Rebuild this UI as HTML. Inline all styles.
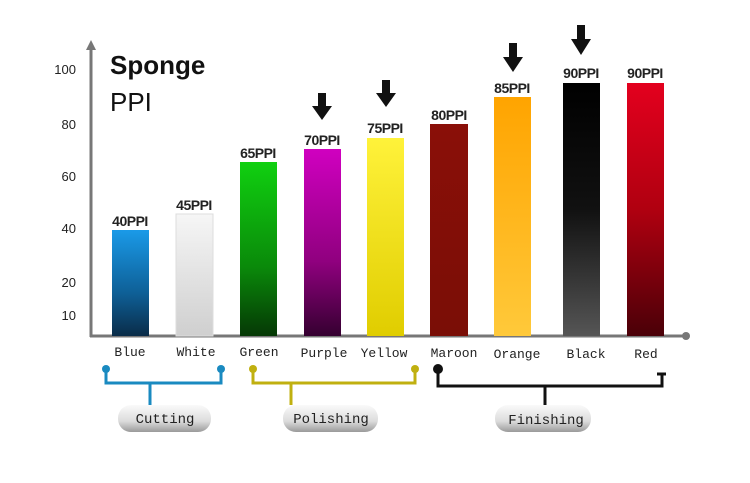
<!DOCTYPE html><html><head><style>body{margin:0;background:#fff}svg{display:block}</style></head><body>
<svg width="750" height="483" xmlns="http://www.w3.org/2000/svg" font-family="Liberation Sans, sans-serif">
<defs>
<linearGradient id="gb" x1="0" y1="0" x2="0" y2="1"><stop offset="0" stop-color="#1a9ae8"/><stop offset=".6" stop-color="#0e5f96"/><stop offset="1" stop-color="#0a2c48"/></linearGradient>
<linearGradient id="gw" x1="0" y1="0" x2="0" y2="1"><stop offset="0" stop-color="#f6f6f6"/><stop offset="1" stop-color="#cfcfcf"/></linearGradient>
<linearGradient id="gg" x1="0" y1="0" x2="0" y2="1"><stop offset="0" stop-color="#10d010"/><stop offset=".6" stop-color="#0a8a0a"/><stop offset="1" stop-color="#053805"/></linearGradient>
<linearGradient id="gp" x1="0" y1="0" x2="0" y2="1"><stop offset="0" stop-color="#d000c0"/><stop offset=".6" stop-color="#90007f"/><stop offset="1" stop-color="#350030"/></linearGradient>
<linearGradient id="gy" x1="0" y1="0" x2="0" y2="1"><stop offset="0" stop-color="#fff23a"/><stop offset="1" stop-color="#e0cd00"/></linearGradient>
<linearGradient id="gm" x1="0" y1="0" x2="0" y2="1"><stop offset="0" stop-color="#8a0f08"/><stop offset="1" stop-color="#7a0e06"/></linearGradient>
<linearGradient id="go" x1="0" y1="0" x2="0" y2="1"><stop offset="0" stop-color="#ffa400"/><stop offset="1" stop-color="#ffc93a"/></linearGradient>
<linearGradient id="gk" x1="0" y1="0" x2="0" y2="1"><stop offset="0" stop-color="#000"/><stop offset=".5" stop-color="#111"/><stop offset="1" stop-color="#555"/></linearGradient>
<linearGradient id="gr" x1="0" y1="0" x2="0" y2="1"><stop offset="0" stop-color="#e3001e"/><stop offset=".5" stop-color="#b00010"/><stop offset="1" stop-color="#4a0008"/></linearGradient>
<linearGradient id="pill" x1="0" y1="0" x2="0" y2="1"><stop offset="0" stop-color="#fafafa"/><stop offset=".6" stop-color="#dcdcdc"/><stop offset="1" stop-color="#9a9a9a"/></linearGradient>
</defs>
<line x1="91" y1="48" x2="91" y2="337" stroke="#777" stroke-width="3"/>
<polygon points="91,40 86,50 96,50" fill="#777"/>
<line x1="90" y1="336" x2="684" y2="336" stroke="#777" stroke-width="3"/>
<circle cx="686" cy="336" r="4" fill="#777"/>
<g font-size="13" fill="#222" text-anchor="end">
<text x="76" y="74">100</text><text x="76" y="129">80</text><text x="76" y="181">60</text><text x="76" y="233">40</text><text x="76" y="287">20</text><text x="76" y="320">10</text></g>
<text x="110" y="74" font-size="26" font-weight="bold" fill="#111">Sponge</text>
<text x="110" y="111" font-size="26" fill="#111">PPI</text>
<rect x="112" y="230" width="37" height="106" fill="url(#gb)"/>
<rect x="176" y="214" width="37" height="122" fill="url(#gw)" stroke="#ddd"/>
<rect x="240" y="162" width="37" height="174" fill="url(#gg)"/>
<rect x="304" y="149" width="37" height="187" fill="url(#gp)"/>
<rect x="367" y="138" width="37" height="198" fill="url(#gy)"/>
<rect x="430" y="124" width="38" height="212" fill="url(#gm)"/>
<rect x="494" y="97" width="37" height="239" fill="url(#go)"/>
<rect x="563" y="83" width="37" height="253" fill="url(#gk)"/>
<rect x="627" y="83" width="37" height="253" fill="url(#gr)"/>
<g font-size="14" font-weight="bold" letter-spacing="-0.5" fill="#222" text-anchor="middle">
<text x="130" y="226">40PPI</text><text x="194" y="210">45PPI</text><text x="258" y="158">65PPI</text><text x="322" y="145">70PPI</text><text x="385" y="133">75PPI</text><text x="449" y="120">80PPI</text><text x="512" y="93">85PPI</text><text x="581" y="78">90PPI</text><text x="645" y="78">90PPI</text></g>
<g fill="#111">
<polygon points="318,93 326,93 326,106 332,106 322,120 312,106 318,106"/>
<polygon points="382,80 390,80 390,93 396,93 386,107 376,93 382,93"/>
<polygon points="509,43 517,43 517,57 523,57 513,72 503,57 509,57"/>
<polygon points="577,25 585,25 585,39 591,39 581,55 571,39 577,39"/></g>
<g font-family="Liberation Mono, monospace" font-size="13" fill="#222" text-anchor="middle">
<text x="130" y="356">Blue</text><text x="196" y="356">White</text><text x="259" y="356">Green</text><text x="324" y="357">Purple</text><text x="384" y="357">Yellow</text><text x="454" y="357">Maroon</text><text x="517" y="358">Orange</text><text x="586" y="358">Black</text><text x="646" y="358">Red</text></g>
<g stroke="#1a8ac0" stroke-width="3" fill="none"><path d="M106,369 V383 H221 V369 M150,383 V405"/></g>
<circle cx="106" cy="369" r="4" fill="#1a8ac0"/><circle cx="221" cy="369" r="4" fill="#1a8ac0"/>
<g stroke="#c0b010" stroke-width="3" fill="none"><path d="M253,369 V383 H364 H415 V369 M291,383 V405"/></g>
<circle cx="253" cy="369" r="4" fill="#c0b010"/><circle cx="415" cy="369" r="4" fill="#c0b010"/>
<g stroke="#111" stroke-width="3" fill="none"><path d="M438,369 V386 H662 V374 M545,386 V405 M657,374 H666"/></g>
<circle cx="438" cy="369" r="5" fill="#111"/>
<g>
<rect x="118" y="405" width="93" height="27" rx="13" fill="url(#pill)"/>
<rect x="283" y="405" width="95" height="27" rx="13" fill="url(#pill)"/>
<rect x="495" y="405" width="96" height="27" rx="13" fill="url(#pill)"/></g>
<g font-family="Liberation Mono, monospace" font-size="14" fill="#222" text-anchor="middle">
<text x="165" y="423">Cutting</text><text x="331" y="423">Polishing</text><text x="546" y="424">Finishing</text></g>
</svg></body></html>
